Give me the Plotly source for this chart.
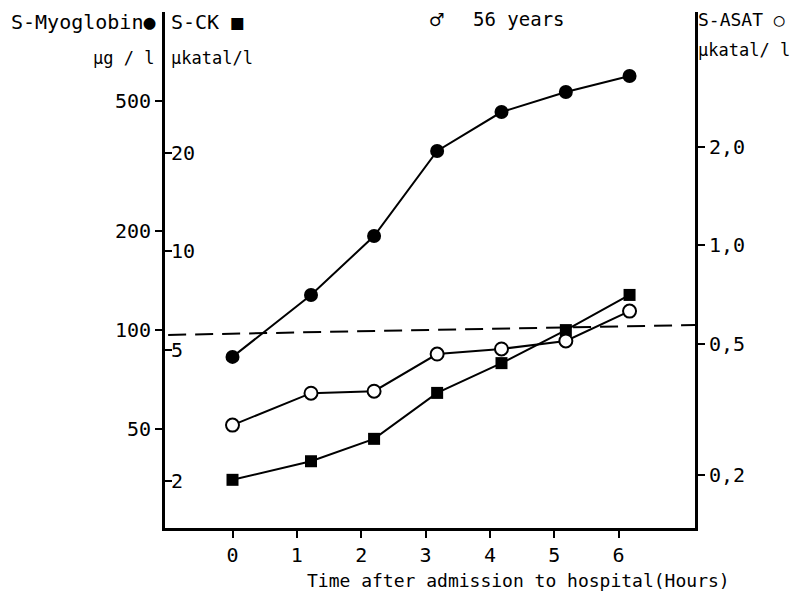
import plotly.graph_objects as go

# ---- data ----
hours = [0, 1.22, 2.2, 3.18, 4.18, 5.18, 6.17]
myoglobin = [82.8, 127.8, 193.4, 351.3, 461.9, 531.6, 594.9]   # µg/l
ck = [2.01, 2.29, 2.68, 3.70, 4.56, 5.75, 7.36]                 # µkatal/l
asat = [0.283, 0.354, 0.359, 0.466, 0.483, 0.511, 0.630]        # µkatal/l
ref_x = [-1.0, 7.187]
ref_myo = [96.6, 103.6]

x_ticks = [0, 1, 2, 3, 4, 5, 6]
myo_ticks = [50, 100, 200, 500]
ck_ticks = [2, 5, 10, 20]
asat_ticks = [0.2, 0.5, 1.0, 2.0]
asat_ticklabels = ["0,2", "0,5", "1,0", "2,0"]

OFF = 8  # default page body margin
W, H = 803 - OFF, 598 - OFF
L, R, T, B = 165, 695, 12, 528   # plot area in screen pixels
FONT = "DejaVu Sans Mono, monospace"

def px(x):
    return (x - L) / (R - L)

def py(y):
    return (B - y) / (B - T)

fig = go.Figure()
fig.add_trace(go.Scatter(x=ref_x, y=ref_myo, mode="lines", yaxis="y",
                         line=dict(color="black", width=2, dash="18px,9px"),
                         hoverinfo="skip", showlegend=False))
fig.add_trace(go.Scatter(x=hours, y=myoglobin, mode="lines+markers", yaxis="y",
                         line=dict(color="black", width=2),
                         marker=dict(symbol="circle", size=14, color="black"),
                         name="S-Myoglobin"))
fig.add_trace(go.Scatter(x=hours, y=ck, mode="lines+markers", yaxis="y2",
                         line=dict(color="black", width=2),
                         marker=dict(symbol="square", size=12, color="black"),
                         name="S-CK"))
fig.add_trace(go.Scatter(x=hours, y=asat, mode="lines+markers", yaxis="y3",
                         line=dict(color="black", width=2),
                         marker=dict(symbol="circle", size=13, color="white",
                                     line=dict(color="black", width=2)),
                         name="S-ASAT"))

tf = dict(family=FONT, size=20, color="black")
fig.update_layout(
    width=W, height=H,
    margin=dict(l=L - OFF, r=803 - R, t=T - OFF, b=598 - B),
    paper_bgcolor="white", plot_bgcolor="white",
    showlegend=False,
    font=dict(family=FONT, size=18, color="black"),
    xaxis=dict(range=[-1.049, 7.187], tickvals=x_ticks, ticks="outside",
               ticklen=7, tickwidth=2, tickcolor="black",
               showline=True, linewidth=3, linecolor="black",
               showgrid=False, zeroline=False, tickfont=tf),
    yaxis=dict(type="log", range=[1.3963, 2.9695], tickvals=myo_ticks,
               ticktext=[str(v) for v in myo_ticks],
               ticks="outside", ticklen=7, tickwidth=2, tickcolor="black",
               showline=True, linewidth=3, linecolor="black",
               showgrid=False, zeroline=False, tickfont=tf),
    yaxis2=dict(type="log", range=[0.1563, 1.7295], tickvals=ck_ticks,
                ticktext=[str(v) for v in ck_ticks],
                overlaying="y", side="left", anchor="x",
                ticks="inside", ticklabelposition="inside", ticklen=7,
                tickwidth=2, tickcolor="black",
                showline=False, showgrid=False, zeroline=False,
                tickfont=tf),
    yaxis3=dict(type="log", range=[-0.862, 0.7112], tickvals=asat_ticks,
                ticktext=asat_ticklabels,
                overlaying="y", side="right", anchor="x",
                ticks="outside", ticklen=7, tickwidth=2, tickcolor="black",
                showline=True, linewidth=3, linecolor="black",
                showgrid=False, zeroline=False, tickfont=tf),
)

def note(text, x, y, anchor="left", size=18):
    fig.add_annotation(text=text, x=px(x), y=py(y), xref="paper", yref="paper",
                       xanchor=anchor, yanchor="middle", showarrow=False,
                       font=dict(family=FONT, size=size, color="black"))

note("S-Myoglobin●", 158, 22, "right", 20)
note("µg / l", 156, 58, "right", 17)
note("S-CK ■", 169, 22, "left", 20)
note("µkatal/l", 169, 58, "left", 17)
note("♂", 428, 20, "left", 23)
note("56 years", 471, 19, "left", 19)
note("S-ASAT ○", 696, 19, "left", 18)
note("µkatal/ l", 696, 50, "left", 17)
note("Time after admission to hospital(Hours)", 305, 580, "left", 18)

fig.write_html("out.html")
